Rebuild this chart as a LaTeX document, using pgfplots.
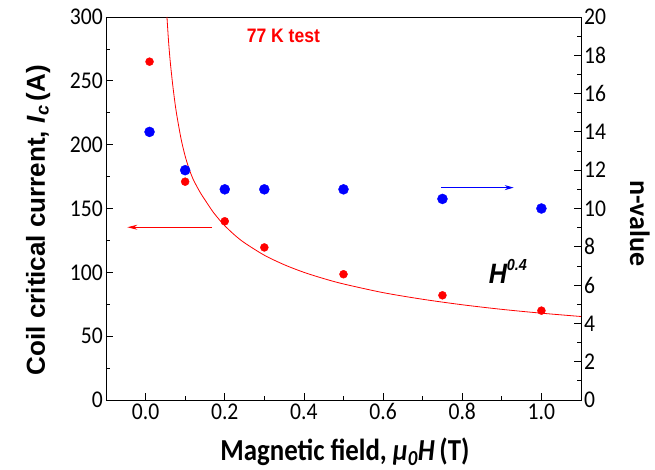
\documentclass[border=0pt]{standalone}
\usepackage{fontspec}
\setmainfont{Carlito}
\newfontfamily\arialfont{Liberation Sans}
\usepackage{pgfplots}
\pgfplotsset{compat=1.18}
\usetikzlibrary{arrows.meta}

\definecolor{ptred}{RGB}{255,0,0}
\definecolor{ptblue}{RGB}{0,0,255}
\newcommand{\tickfont}{\fontsize{24}{26}\selectfont}

\pgfplotsset{
  common/.style={
    scale only axis, width=475pt, height=383pt,
    xmin=-0.1, xmax=1.1, clip=false,
    tick align=inside, major tick length=7pt, minor tick length=4pt,
    tick style={black, line width=0.8pt},
    axis line style={black, line width=0.9pt},
    /pgf/number format/assume math mode=true,
    xticklabel style={font=\tickfont, xscale=0.9},
    yticklabel style={font=\tickfont, xscale=0.9},
  }
}

\begin{document}
\begin{tikzpicture}
% Critical current (left axis)
\begin{axis}[common, name=ax,
  ymin=0, ymax=300,
  xtick={0,0.2,0.4,0.6,0.8,1.0}, minor x tick num=1,
  ytick={0,50,...,300}, minor y tick num=1,
  xtick pos=left, ytick pos=left,
  x tick label style={/pgf/number format/.cd, fixed, fixed zerofill, precision=1},
]
% H^-0.4 type fit
\addplot[ptred, line width=0.8pt, smooth, no markers] coordinates {
  (0.054,300) (0.058,281) (0.062,266) (0.066,254) (0.070,243) (0.075,231)
  (0.080,221) (0.090,204) (0.100,191) (0.110,181) (0.120,173) (0.130,167)
  (0.140,161.5) (0.155,154.4) (0.170,147.5) (0.185,141.7) (0.200,136.5)
  (0.225,129.2) (0.250,123.1) (0.300,113.4) (0.350,106) (0.400,100)
  (0.450,95.1) (0.500,90.9) (0.600,84.1) (0.700,78.9) (0.800,74.6)
  (0.900,71.0) (1.000,68.0) (1.100,65.4)
};
\addplot[only marks, mark=*, mark size=4pt, ptred] coordinates {
  (0.01,265) (0.1,171) (0.2,140) (0.3,119.5) (0.5,98.5) (0.75,82) (1.0,70)
};
\draw[ptred, line width=0.8pt, -{Stealth[length=10pt, width=5pt]}]
  (axis cs:0.168,135.3) -- (axis cs:-0.046,135.3);
\node[font=\arialfont\bfseries\fontsize{19.5}{22}\selectfont, text=ptred,
  xscale=0.9, anchor=base] at (axis cs:0.348,280) {77 K test};
\node[font=\arialfont\bfseries\itshape\fontsize{28}{30}\selectfont,
  xscale=0.9, anchor=base west] at (axis cs:0.859,91.4)
  {H\raisebox{13pt}{\fontsize{16}{18}\selectfont 0.4}};
\node[font=\arialfont\bfseries\fontsize{26}{28}\selectfont, rotate=90,
  anchor=center] at (axis description cs:-0.143,0.47)
  {Coil critical current, \textit{I}\textsubscript{\textit{c}}\,(A)};
\node[font=\bfseries\fontsize{30.5}{32}\selectfont, xscale=0.88,
  anchor=base] at (axis description cs:0.503,-0.158)
  {Magnetic field, \textit{μ}\textsubscript{\textit{0}}\textit{H}\,(T)};
\end{axis}

% n-value (right axis)
\begin{axis}[common,
  ymin=0, ymax=20,
  axis y line*=right, axis x line=none,
  ytick={0,2,...,20}, minor y tick num=1,
]
\addplot[only marks, mark=*, mark size=5pt, ptblue] coordinates {
  (0.01,14) (0.1,12) (0.2,11) (0.3,11) (0.5,11) (0.75,10.5) (1.0,10)
};
\draw[ptblue, line width=0.8pt, -{Stealth[length=9pt, width=5pt]}]
  (axis cs:0.747,11.09) -- (axis cs:0.930,11.09);
\node[font=\bfseries\fontsize{28}{30}\selectfont, rotate=-90,
  anchor=center] at (axis description cs:1.124,0.462) {n-value};
\end{axis}

\pgfresetboundingbox
\path (ax.south west) ++(-106pt,-70pt) rectangle ([shift={(74pt,17pt)}]ax.north east);
\end{tikzpicture}
\end{document}
